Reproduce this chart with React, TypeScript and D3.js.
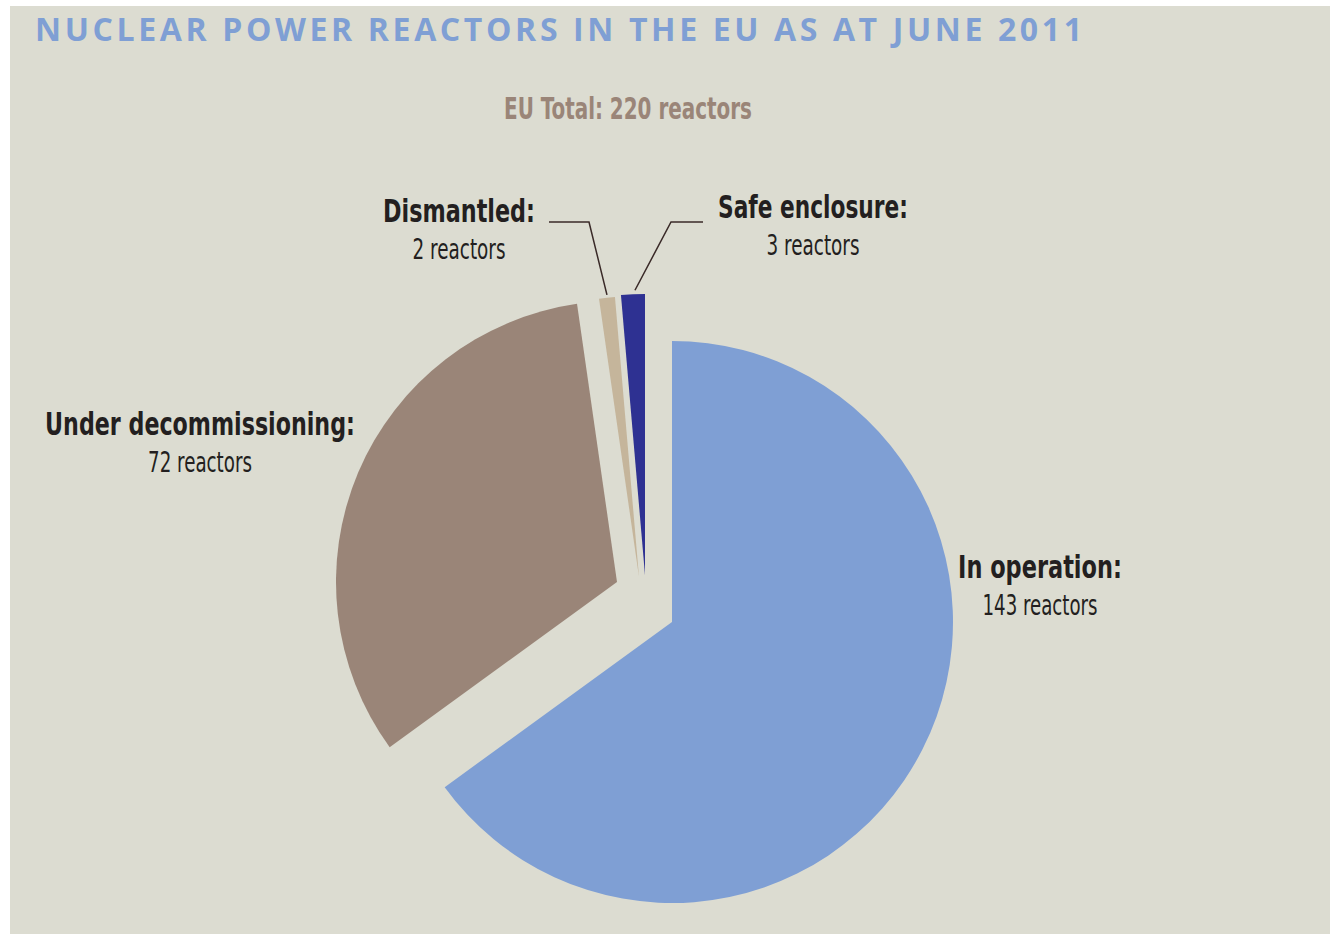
import React, { useLayoutEffect, useRef, useState } from "react";
import * as d3 from "d3";

// data
const categories = ["In operation", "Under decommissioning", "Dismantled", "Safe enclosure"];
const reactors = [143, 72, 2, 3];
const sliceColors = ["#7f9fd4", "#9a8578", "#c5b59b", "#2e3192"];

const title = "NUCLEAR POWER REACTORS IN THE EU AS AT JUNE 2011";
const subtitle = "EU Total: 220 reactors";

// layout
const width = 1330;
const height = 936;
const cx = 672;
const cy = 622;
const radius = 281;
// exploded slices are pulled out by these amounts (px)
const explode: [number, number][] = [[0, 0], [-55, -40], [-33, -45], [-27, -47]];

const condensed = "'Liberation Sans Narrow', 'DejaVu Sans Condensed', 'Roboto', sans-serif";

// label placement: centre x, first baseline, widths of the two lines
const labelPos = [
  { x: 1040, y: 578, w1: 164, w2: 115 },
  { x: 200, y: 435, w1: 310, w2: 104 },
  { x: 459, y: 222, w1: 152, w2: 93 },
  { x: 813, y: 218, w1: 190, w2: 93 },
];

// text squeezed horizontally to a given width (the original uses a condensed face)
function FitText({ x, y, w, children, ...rest }: any) {
  const ref = useRef<SVGTextElement>(null);
  const [sx, setSx] = useState(1);
  useLayoutEffect(() => {
    if (ref.current) {
      const len = ref.current.getComputedTextLength();
      if (len > 0) setSx(w / len);
    }
  }, [w, children]);
  return (
    <g transform={`translate(${x},${y}) scale(${sx},1)`}>
      <text ref={ref} x={0} y={0} textAnchor="middle" {...rest}>{children}</text>
    </g>
  );
}

export default function App() {
  const pie = d3.pie<number>().sort(null).value(d => d).startAngle(0).endAngle(2 * Math.PI);
  const arcs = pie(reactors);
  const arc = d3.arc<d3.PieArcDatum<number>>().innerRadius(0).outerRadius(radius);

  // leader line points for the two thin slices (from the slice tip to the label)
  const tip = (i: number) => {
    const a = arcs[i];
    const mid = (a.startAngle + a.endAngle) / 2;
    return [cx + explode[i][0] + Math.sin(mid) * radius, cy + explode[i][1] - Math.cos(mid) * radius];
  };
  const t2 = tip(2);
  const t3 = tip(3);
  const leader = d3.line();

  return (
    <div style={{ position: "absolute", left: 0, top: 0 }}>
      <svg width={width} height={height} style={{ display: "block", background: "#ffffff" }}>
        <rect x={10} y={6} width={1320} height={928} fill="#dcdcd1" />

        <text x={35} y={41} fill="#7f9fd4" fontFamily="'Open Sans', sans-serif" fontWeight={700}
          fontSize={32} textLength={1047} lengthAdjust="spacing">{title}</text>

        <FitText x={628} y={119} w={248} fill="#9a8578" fontFamily={condensed} fontWeight={700}
          fontSize={30}>{subtitle}</FitText>

        {arcs.map((a, i) => (
          <path key={categories[i]} d={arc(a) || ""} fill={sliceColors[i]}
            transform={`translate(${cx + explode[i][0]},${cy + explode[i][1]})`} />
        ))}

        <path d={leader([[549, 222], [589, 222], [t2[0], t2[1] - 3]]) || ""} fill="none" stroke="#3a2a28" strokeWidth={1.5} />
        <path d={leader([[703, 222], [671, 222], [t3[0] + 2, t3[1] - 4]]) || ""} fill="none" stroke="#3a2a28" strokeWidth={1.5} />

        {categories.map((c, i) => (
          <g key={c}>
            <FitText x={labelPos[i].x} y={labelPos[i].y} w={labelPos[i].w1} fill="#231f20"
              fontFamily={condensed} fontWeight={700} fontSize={32}>{c + ":"}</FitText>
            <FitText x={labelPos[i].x} y={labelPos[i].y + 37} w={labelPos[i].w2} fill="#231f20"
              fontFamily={condensed} fontWeight={400} fontSize={28}>{reactors[i] + " reactors"}</FitText>
          </g>
        ))}
      </svg>
    </div>
  );
}
